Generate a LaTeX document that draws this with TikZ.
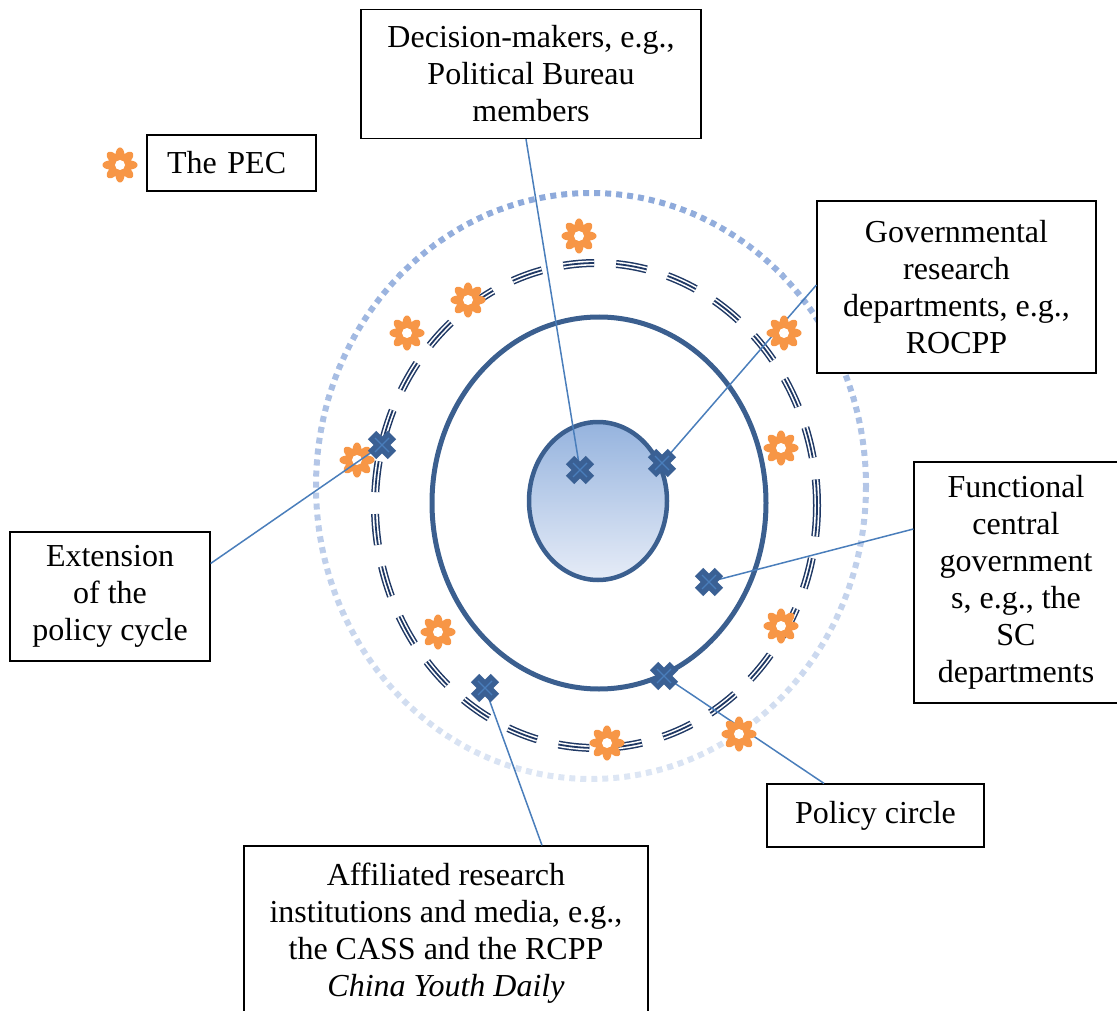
\documentclass[tikz,border=0pt]{standalone}
\usepackage{fontspec}
\setmainfont{Liberation Serif}
\definecolor{dotTop}{HTML}{8EAADB}
\definecolor{dotBot}{HTML}{DDE6F4}
\definecolor{navy}{HTML}{1F3864}
\definecolor{ringblue}{HTML}{3B5F8F}
\definecolor{crossblue}{HTML}{3A6094}
\definecolor{leadblue}{HTML}{4A7EBB}
\definecolor{pecorange}{HTML}{F79646}
\definecolor{gradTop}{HTML}{95B3DE}
\definecolor{gradBot}{HTML}{E6ECF7}
\begin{document}
\begin{tikzpicture}[x=1pt,y=-1pt,
  box/.style={draw=black, line width=1.2pt, fill=white, inner sep=0pt, align=center,
    font=\fontsize{32}{37}\selectfont},
  leader/.style={leadblue, line width=1.5pt},
  triple/.style={dash pattern=on 31pt off 22pt},
  bluex/.pic={
    \fill[crossblue, rotate=45] (-14,-6) rectangle (14,6);
    \fill[crossblue, rotate=45] (-6,-14) rectangle (6,14);
    \draw[leadblue, line width=1.2pt] (-7,-7) -- (7,7) (-7,7) -- (7,-7);
  },
  pecstar/.pic={
    \fill[pecorange] plot[domain=0:358, samples=180, variable=\t]
      ({(11.5+6*abs(cos(4*\t)))*cos(\t+90)},{(11.5+6*abs(cos(4*\t)))*sin(\t+90)}) -- cycle;
    \fill[white] (0,0) circle (5);
  }]
\useasboundingbox (0,0) rectangle (1117,1011);

% outer dotted ring with vertical colour gradient
\foreach \i in {0,...,19}{
  \pgfmathsetmacro\ya{180+\i*31}
  \pgfmathsetmacro\yb{\ya+31.5}
  \pgfmathsetmacro\p{100-\i*100/19}
  \colorlet{dotc}{dotTop!\p!dotBot}
  \begin{scope}
    \clip (300,\ya) rectangle (885,\yb);
    \draw[dotc, line width=6pt, dash pattern=on 6pt off 5pt] (591,486) ellipse [x radius=275, y radius=293];
  \end{scope}
}

% triple dashed ring
\draw[navy, line width=8pt, triple] (596,505.5) ellipse [x radius=221, y radius=242.5];
\draw[white, line width=5pt, triple] (596,505.5) ellipse [x radius=221, y radius=242.5];
\draw[navy, line width=1.8pt, triple] (596,505.5) ellipse [x radius=221, y radius=242.5];

% policy circle
\draw[ringblue, line width=5pt] (599,503) ellipse [x radius=167, y radius=186];
% core
\draw[ringblue, line width=4.5pt, top color=gradTop, bottom color=gradBot] (598,501) ellipse [x radius=69, y radius=79];

% star under the leader line
\pic at (357,460) {pecstar};

% crosses
\coordinate (x1) at (382,445);
\coordinate (x2) at (580,470);
\coordinate (x3) at (662,463);
\coordinate (x4) at (709,582);
\coordinate (x5) at (664,676);
\coordinate (x6) at (485,688);

% boxes
\node[box, minimum width=340pt, minimum height=129pt] (dm) at (531,74) {Decision-makers, e.g.,\\Political Bureau\\members};
\node[box, minimum width=169pt, minimum height=56pt, text width=129pt, inner xsep=20pt, align=left] (pec) at (231.5,163) {The PEC};
\node[box, minimum width=279pt, minimum height=172pt] (gov) at (956.5,287) {Governmental\\research\\departments, e.g.,\\ROCPP};
\node[box, minimum width=204pt, minimum height=241pt] (fun) at (1016,582.5) {Functional\\central\\government\\s, e.g., the\\SC\\departments};
\node[box, minimum width=200pt, minimum height=129pt] (ext) at (110,596.5) {Extension\\of the\\policy cycle};
\node[box, minimum width=217pt, minimum height=63pt] (pol) at (875.5,815.5) {Policy circle};
\node[box, minimum width=404pt, minimum height=174pt] (aff) at (446,933) {Affiliated research\\institutions and media, e.g.,\\the CASS and the RCPP\\\textit{China Youth Daily}};

% leader lines
\draw[leader] ([xshift=-5pt]dm.south) -- (x2);
\draw[leader] ([yshift=2pt]gov.west) -- (x3);
\draw[leader] ([yshift=33pt]ext.east) -- (x1);
\draw[leader] ([yshift=53.5pt]fun.west) -- (x4);
\draw[leader] ([xshift=-51.5pt]pol.north) -- (x5);
\draw[leader] ([xshift=96pt]aff.north) -- (x6);

\foreach \c in {x1,x2,x3,x4,x5,x6} \pic at (\c) {bluex};

% PEC stars
\foreach \p in {(120,165),(579,236),(468,300),(407,333),(784,333),(781,448),(438,632),(781,626),(607,743),(739,734)}
  \pic at \p {pecstar};
\end{tikzpicture}
\end{document}
